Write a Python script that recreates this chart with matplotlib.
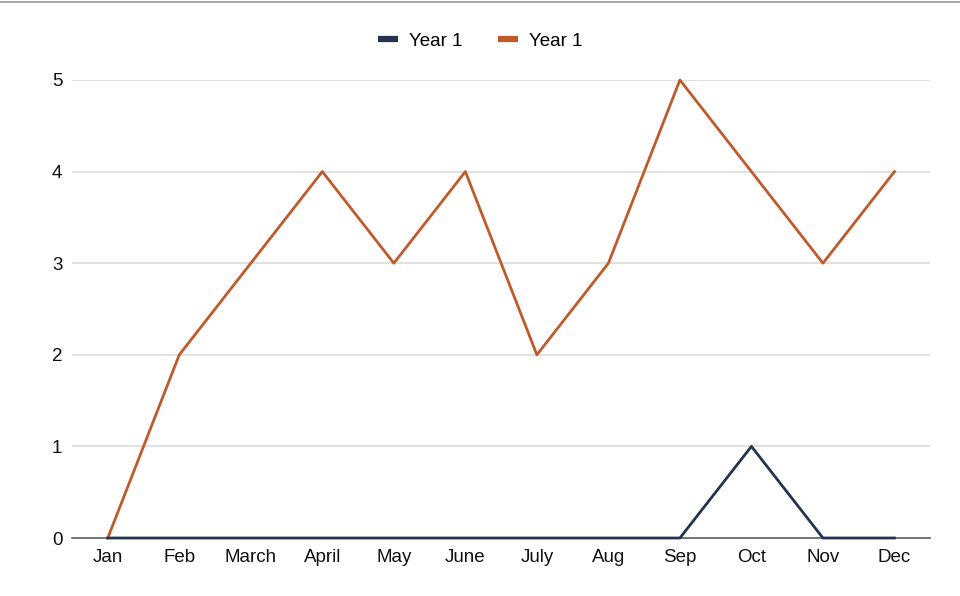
import matplotlib
matplotlib.use("Agg")
import matplotlib.pyplot as plt
from matplotlib.lines import Line2D

plt.rcParams["font.family"] = ["Liberation Sans", "DejaVu Sans"]

# data
months = ["Jan", "Feb", "March", "April", "May", "June", "July", "Aug", "Sep", "Oct", "Nov", "Dec"]
year1_a = [0, 0, 0, 0, 0, 0, 0, 0, 0, 1, 0, 0]
year1_b = [0, 2, 3, 4, 3, 4, 2, 3, 5, 4, 3, 4]
y_ticks = [0, 1, 2, 3, 4, 5]

NAVY = "#253350"
ORANGE = "#bf5b2a"
GRID = "#d9d9d9"
AXIS = "#5f5f5f"

fig = plt.figure(figsize=(9.6, 5.96), dpi=100)
fig.patch.set_facecolor("white")
ax = fig.add_axes([0.075, 0.0973, 0.894, 0.7685])

x = list(range(len(months)))
ax.plot(x, year1_a, color=NAVY, linewidth=2.0, label="Year 1", zorder=4, clip_on=False)
ax.plot(x, year1_b, color=ORANGE, linewidth=2.0, label="Year 1", zorder=3, clip_on=False)

ax.set_xlim(-0.5, 11.5)
ax.set_ylim(0, 5)
ax.set_xticks(x)
ax.set_xticklabels(months)
ax.set_yticks(y_ticks)

ax.yaxis.grid(True, color=GRID, linewidth=1.1)
ax.set_axisbelow(True)
for name in ["top", "right", "left"]:
    ax.spines[name].set_visible(False)
ax.spines["bottom"].set_color(AXIS)
ax.spines["bottom"].set_linewidth(1.2)
ax.spines["bottom"].set_zorder(2)

ax.tick_params(axis="both", length=0, labelsize=13.5, colors="#111111")
ax.tick_params(axis="y", pad=7)
ax.tick_params(axis="x", pad=8)

leg = fig.legend(loc="center", bbox_to_anchor=(0.5, 0.931), ncol=2, frameon=False,
                 fontsize=13.5, handlelength=1.1, handletextpad=0.55, columnspacing=1.9)
for h in leg.get_lines():
    h.set_linewidth(4.5)
    h.set_solid_capstyle("butt")

# spreadsheet border line at the very top
fig.add_artist(Line2D([0, 1], [0.997, 0.997], color="#9a9a9a", linewidth=1.2, transform=fig.transFigure))

fig.savefig("out.png", dpi=100, facecolor="white")
